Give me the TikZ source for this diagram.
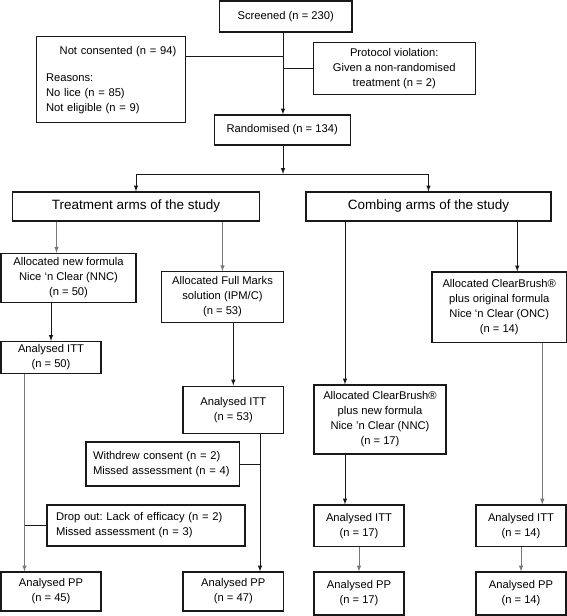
\documentclass[tikz,border=0pt]{standalone}
\usepackage{fontspec}
\setmainfont{Liberation Sans}
\usetikzlibrary{arrows}
\usetikzlibrary{positioning}
\definecolor{mline}{rgb}{0.1, 0.1, 0.1}
\definecolor{mgrey}{rgb}{0.47, 0.47, 0.47}

\tikzset{
  box/.style={draw=mline, line width=1.1pt, inner sep=2pt, align=center,
    font=\fontsize{11.2}{15}\selectfont\frenchspacing},
  headbox/.style={box, font=\fontsize{13.5}{16}\selectfont},
  leftbox/.style={box, align=left, inner xsep=9pt},
  conn/.style={mline, line width=1pt},
  greyline/.style={mgrey, line width=1pt},
}

\begin{document}
\begin{tikzpicture}[x=1pt, y=1pt]
      \useasboundingbox (0,0) rectangle (567,-616);
      % screening
      \node [box, minimum width=132.5pt, minimum height=31pt] (scr) at (285.75,-16.5) {Screened (n = 230)};
      \node [leftbox, inner xsep=9.3pt, text width=130.4pt, minimum height=86pt] (nocon) at (111.2,-79.7)
        {\hspace*{\fill}Not consented (n = 94)\hspace*{\fill}\\[12pt]Reasons:\\No lice (n = 85)\\Not eligible (n = 9)};
      \node [box, minimum width=161.7pt, minimum height=51.6pt] (proto) at (394.2,-68.5)
        {Protocol violation:\\Given a non-randomised\\treatment (n = 2)};
      \node [box, minimum width=135.7pt, minimum height=30pt] (rand) at (282.2,-130) {Randomised (n = 134)};
      % arms
      \node [headbox, minimum width=246.6pt, minimum height=29pt] (treat) at (136,-206.5) {Treatment arms of the study};
      \node [headbox, minimum width=245pt, minimum height=29pt] (comb) at (428.5,-206.5) {Combing arms of the study};
      % allocation
      \node [box, minimum width=135pt, minimum height=49pt] (nnc) at (68.5,-277.8)
        {Allocated new formula\\Nice `n Clear (NNC)\\(n = 50)};
      \node [box, minimum width=121.6pt, minimum height=50.6pt] (ipm) at (222.5,-297)
        {Allocated Full Marks\\solution (IPM/C)\\(n = 53)};
      \node [box, minimum width=132pt, minimum height=69pt] (cbnnc) at (380,-419.5)
        {Allocated ClearBrush®\\plus new formula\\Nice 'n Clear (NNC)\\(n = 17)};
      \node [box, minimum width=134.5pt, minimum height=70.5pt] (onc) at (499.25,-307.25)
        {Allocated ClearBrush®\\plus original formula\\Nice `n Clear (ONC)\\(n = 14)};
      % intention to treat
      \node [box, minimum width=100pt, minimum height=32pt] (itt1) at (51,-357.5) {Analysed ITT\\(n = 50)};
      \node [box, minimum width=100.6pt, minimum height=47.3pt] (itt2) at (233.3,-409.7) {Analysed ITT\\(n = 53)};
      \node [box, minimum width=90pt, minimum height=41.5pt] (itt3) at (359,-525.75) {Analysed ITT\\(n = 17)};
      \node [box, minimum width=90pt, minimum height=41.5pt] (itt4) at (521,-525.75) {Analysed ITT\\(n = 14)};
      % losses
      \node [leftbox, inner xsep=7pt, text width=139.5pt, minimum height=44pt] (wdr) at (162.75,-464)
        {Withdrew consent (n = 2)\\Missed assessment (n = 4)};
      \node [leftbox, text width=180pt, minimum height=41pt] (drop) at (146,-525.5)
        {Drop out: Lack of efficacy (n = 2)\\Missed assessment (n = 3)};
      % per protocol
      \node [box, minimum width=100pt, minimum height=39pt] (pp1) at (51,-591.5) {Analysed PP\\(n = 45)};
      \node [box, minimum width=100.6pt, minimum height=39pt] (pp2) at (233.3,-591.5) {Analysed PP\\(n = 47)};
      \node [box, minimum width=90pt, minimum height=43pt] (pp3) at (359,-593.5) {Analysed PP\\(n = 17)};
      \node [box, minimum width=90pt, minimum height=43pt] (pp4) at (521,-593.5) {Analysed PP\\(n = 14)};

      % trunk
      \coordinate (j1) at (283,-56.7);
      \coordinate (j2) at (283,-68.3);
      \coordinate (split) at (283,-174);
      \draw [conn, -latex] (scr.south -| split) -- (rand.north -| split);
      \draw [conn] (nocon.east |- j1) -- (j1);
      \draw [conn] (j2) -- (proto.west |- j2);
      \draw [conn, -latex] (rand.south -| split) -- (split);
      \draw [conn] (split -| treat.north) -- (split -| comb.north);
      \draw [conn, -latex] (split -| treat.north) -- (treat.north);
      \draw [conn, -latex] (split -| comb.north) -- (comb.north);
      % treatment arms
      \draw [greyline, -latex] ([xshift=-12pt]nnc.north |- treat.south) -- ([xshift=-12pt]nnc.north);
      \draw [greyline, -latex] (ipm.north |- treat.south) -- (ipm.north);
      \draw [conn, -latex] (nnc.south -| itt1.north) -- (itt1.north);
      \draw [conn, -latex] (ipm.south -| itt2.north) -- (itt2.north);
      \draw [greyline, -latex] ([xshift=-26.5pt]pp1.north |- itt1.south) -- ([xshift=-26.5pt]pp1.north);
      \draw [conn] (drop.west) -- ([xshift=-26.5pt]pp1.north |- drop.west);
      \draw [conn, -latex] ([xshift=26.7pt]pp2.north |- itt2.south) -- ([xshift=26.7pt]pp2.north);
      \draw [conn] (wdr.east) -- ([xshift=26.7pt]pp2.north |- wdr.east);
      % combing arms
      \draw [conn, -latex] ([xshift=-35pt]cbnnc.north |- comb.south) -- ([xshift=-35pt]cbnnc.north);
      \draw [conn, -latex] ([xshift=18pt]onc.north |- comb.south) -- ([xshift=18pt]onc.north);
      \draw [conn, -latex] ([xshift=-14pt]itt3.north |- cbnnc.south) -- ([xshift=-14pt]itt3.north);
      \draw [greyline, -latex] ([xshift=21.3pt]itt4.north |- onc.south) -- ([xshift=21.3pt]itt4.north);
      \draw [greyline, -latex] (itt3.south) -- (pp3.north);
      \draw [greyline, -latex] (itt4.south) -- (pp4.north);
    \end{tikzpicture}
\end{document}
